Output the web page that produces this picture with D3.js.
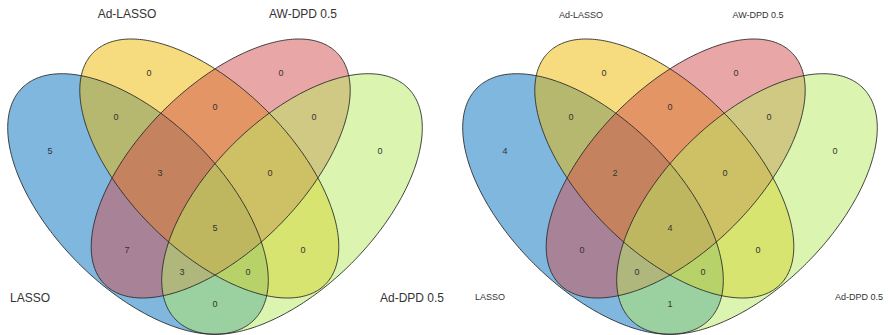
<!DOCTYPE html>
<html>
<head>
<meta charset="utf-8">
<script src="https://cdn.jsdelivr.net/npm/d3@7"></script>
<style>
  html, body { margin: 0; padding: 0; background: #fff; }
  svg { display: block; }
</style>
</head>
<body>
<svg id="chart" width="888" height="335"></svg>
<script>
// ---------------- DATA ----------------
const sets = ["LASSO", "Ad-LASSO", "AW-DPD 0.5", "Ad-DPD 0.5"];
const setColors = ["#0070BE", "#EFB900", "#D14D4D", "#B7EB61"];
// region keys: A=LASSO, B=Ad-LASSO, C=AW-DPD 0.5, D=Ad-DPD 0.5
const regions = ["A", "B", "C", "D", "AB", "BC", "CD", "AC", "BD", "AD", "ABC", "BCD", "ACD", "ABD", "ABCD"];
const countsLeft  = [5, 0, 0, 0, 0, 0, 0, 7, 0, 0, 3, 0, 3, 0, 5];
const countsRight = [4, 0, 0, 0, 0, 0, 0, 0, 0, 1, 2, 0, 0, 0, 4];

// ---------------- LAYOUT (panel units, 444 x 335) ----------------
// ellipses: centre, semi-axes, angle (degrees, screen coords)
const ellipses = [
  { cx: 138,   cy: 204,   a: 164, b: 84,   ang: 45 },   // LASSO
  { cx: 209.3, cy: 168.5, a: 164, b: 81.5, ang: 45 },   // Ad-LASSO
  { cx: 220.7, cy: 168.5, a: 164, b: 81.5, ang: -45 },  // AW-DPD 0.5
  { cx: 292,   cy: 204,   a: 164, b: 84,   ang: -45 }   // Ad-DPD 0.5
];
const regionPos = {
  A: [50, 151], B: [149, 73], C: [281, 73], D: [380, 151],
  AB: [116, 117], BC: [215, 107], CD: [314, 117],
  AC: [127, 250], BD: [303, 250], AD: [215, 304],
  ABC: [160, 173], BCD: [270, 173], ACD: [182, 272], ABD: [248, 272],
  ABCD: [215, 228]
};
const panels = [
  { offset: 0, counts: countsLeft, setFont: 12,
    setPos: [[30, 298], [127, 14], [303, 14], [412, 298]] },
  { offset: 455, counts: countsRight, setFont: 9,
    setPos: [[35, 297], [126, 15], [303, 15], [404, 297]] }
];

const svg = d3.select("#chart");
const line = d3.line().curve(d3.curveLinearClosed);

panels.forEach(p => {
  const x = d3.scaleLinear().domain([0, 444]).range([p.offset, p.offset + 444]);
  const y = d3.scaleLinear().domain([0, 335]).range([0, 335]);
  const g = svg.append("g");

  const pts = e => {
    const r = e.ang * Math.PI / 180;
    return d3.range(0, 2 * Math.PI, Math.PI / 180).map(t => {
      const ux = e.a * Math.cos(t), uy = e.b * Math.sin(t);
      return [x(e.cx + ux * Math.cos(r) - uy * Math.sin(r)),
              y(e.cy + ux * Math.sin(r) + uy * Math.cos(r))];
    });
  };

  g.selectAll("path.fill").data(ellipses).join("path")
    .attr("class", "fill")
    .attr("d", e => line(pts(e)))
    .attr("fill", (e, i) => setColors[i])
    .attr("fill-opacity", 0.5)
    .attr("stroke", "none");

  g.selectAll("path.edge").data(ellipses).join("path")
    .attr("class", "edge")
    .attr("d", e => line(pts(e)))
    .attr("fill", "none")
    .attr("stroke", "#2b2b2b")
    .attr("stroke-width", 0.9);

  g.selectAll("text.count").data(regions).join("text")
    .attr("class", "count")
    .attr("x", k => x(regionPos[k][0]))
    .attr("y", k => y(regionPos[k][1]))
    .attr("text-anchor", "middle")
    .attr("dominant-baseline", "central")
    .attr("font-family", "'Liberation Sans', Arial, sans-serif")
    .attr("font-size", 9)
    .attr("fill", "#333")
    .text((k, i) => p.counts[i]);

  g.selectAll("text.set").data(sets).join("text")
    .attr("class", "set")
    .attr("x", (s, i) => x(p.setPos[i][0]))
    .attr("y", (s, i) => y(p.setPos[i][1]))
    .attr("text-anchor", "middle")
    .attr("dominant-baseline", "central")
    .attr("font-family", "'Liberation Sans', Arial, sans-serif")
    .attr("font-size", p.setFont)
    .attr("fill", "#333")
    .text(s => s);
});
</script>
</body>
</html>
